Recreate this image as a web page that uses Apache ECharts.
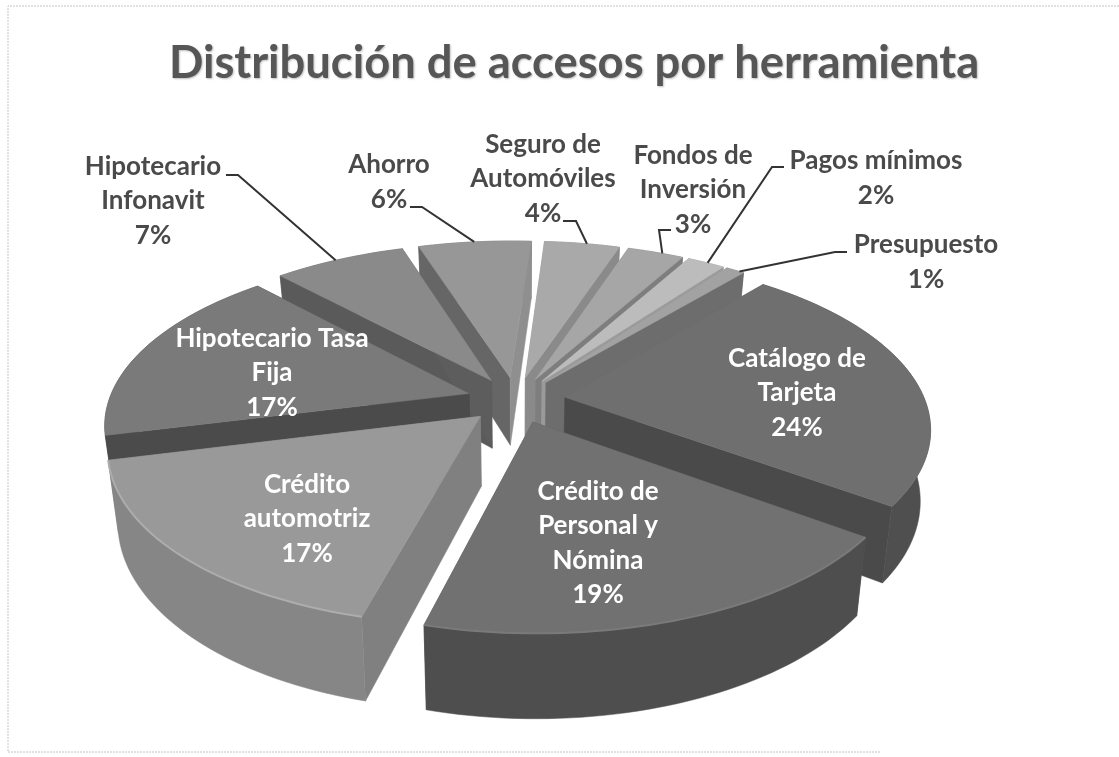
<!DOCTYPE html>
<html>
<head>
<meta charset="utf-8">
<title>Distribución de accesos por herramienta</title>
<script src="https://cdn.jsdelivr.net/npm/echarts@6/dist/echarts.min.js"></script>
<style>
html,body{margin:0;padding:0;background:#fff;}
#main{width:1119px;height:757px;}
</style>
</head>
<body>
<div id="main"></div>
<script>
var titleText = 'Distribución de accesos por herramienta';

// clockwise, starting from the 1st slice after the small ones
var categories = ['Catálogo de\nTarjeta', 'Crédito de\nPersonal y\nNómina', 'Crédito\nautomotriz',
    'Hipotecario Tasa\nFija', 'Hipotecario\nInfonavit', 'Ahorro', 'Seguro de\nAutomóviles',
    'Fondos de\nInversión', 'Pagos mínimos', 'Presupuesto'];
var values = [24, 19, 17, 17, 7, 6, 4, 3, 2, 1];

// face, rim and the two radial wall greys
var faceColors = ['#6f6f6f', '#717171', '#999999', '#7a7a7a', '#8a8a8a', '#979797', '#a9a9a9', '#a6a6a6', '#bcbcbc', '#a2a2a2'];
var sideColors = ['#4f4f4f', '#4e4e4e', '#868686', '#4b4b4b', '#666666', '#6e6e6e', '#8c8c8c', '#858585', '#9c9c9c', '#707070'];
var fromWallColors = ['#6a6a6a', '#5a5a5a', '#808080', '#4b4b4b', '#5a5a5a', '#666666', '#9a9a9a', '#9a9a9a', '#a0a0a0', '#9a9a9a'];
var toWallColors = ['#4a4a4a', '#5a5a5a', '#808080', '#4b4b4b', '#5d5d5d', '#8f8f8f', '#8a8a8a', '#7e7e7e', '#9a9a9a', '#6d6d6d'];
var rimLineColors = [null, '#7a7a7a', '#adadad', null, null, null, null, null, null, null];

// label centre, leader elbow start / elbow (none for inner labels)
var labelCenters = [[797, 393], [598, 543], [307, 519], [272, 373], [153, 201], [389, 182], [543, 179], [693, 190], [876, 178], [926, 262]];
var leaderStarts = [null, null, null, null, [226, 175], [410, 207], [563, 221], [671, 230], [784, 167], [847, 252]];
var leaderElbows = [null, null, null, null, [238, 175], [422, 207], [576, 221], [659, 230], [772, 167], [835, 252]];
var leaderAngles = [null, null, null, null, -31, -7, 12, 25, 33, 39];

var startAngle = 39.9;
var center = [516, 400];
var radiusX = 360;
var radiusY = 167;
var thickness = 69;
var perspective = 0.17;
var explode = 0.137;

var total = 0;
for (var t = 0; t < values.length; t++) {
    total += values[t];
}

// a point of the disc (1 = rim, front = v positive) on the screen, z 1 = bottom of the pie
function project(u, v, z) {
    var s = 1 / (1 - perspective * v);
    var shrink = 1 - 0.025 * z;
    return [
        center[0] + radiusX * u * s * shrink,
        center[1] + radiusY * v * s + thickness * z * s
    ];
}

function rad(deg) {
    return deg * Math.PI / 180;
}

var slices = [];
var angle = startAngle;
for (var i = 0; i < values.length; i++) {
    var sweep = values[i] / total * 360;
    var mid = angle + sweep / 2;
    slices.push({
        index: i,
        from: angle,
        to: angle + sweep,
        dx: Math.sin(rad(mid)) * explode,
        dv: -Math.cos(rad(mid)) * explode,
        depth: -Math.cos(rad(mid))
    });
    angle += sweep;
}

// paint from the back of the pie to the front
var drawOrder = slices.slice().sort(function (a, b) {
    return a.depth - b.depth;
});

function rimPoint(slice, deg, z) {
    return project(slice.dx + Math.sin(rad(deg)), slice.dv - Math.cos(rad(deg)), z);
}

function rimPoints(slice, z) {
    var pts = [];
    var steps = Math.max(6, Math.ceil((slice.to - slice.from) / 1.5));
    for (var k = 0; k <= steps; k++) {
        pts.push(rimPoint(slice, slice.from + (slice.to - slice.from) * k / steps, z));
    }
    return pts;
}

function poly(points, fill) {
    return {type: 'polygon', shape: {points: points}, style: {fill: fill, stroke: fill, lineWidth: 0.5}};
}

function renderSlice(params, api) {
    var slice = drawOrder[api.value(0)];
    var idx = slice.index;
    var apexTop = project(slice.dx, slice.dv, 0);
    var apexBottom = project(slice.dx, slice.dv, 1);
    var rimTop = rimPoints(slice, 0);
    var rimBottom = rimPoints(slice, 1);
    var last = rimTop.length - 1;
    var side = poly(rimTop.concat(rimBottom.slice().reverse()), sideColors[idx]);
    var children = [
        poly([apexTop, rimTop[0], rimBottom[0], apexBottom], fromWallColors[idx]),
        poly([apexTop, rimTop[last], rimBottom[last], apexBottom], toWallColors[idx])
    ];
    // at the back the rim is behind the radial walls, at the front in front of them
    if (slice.depth < 0) {
        children.unshift(side);
    } else {
        children.push(side);
    }
    children.push(poly([apexTop].concat(rimTop), faceColors[idx]));
    if (rimLineColors[idx]) {
        children.push({
            type: 'polyline',
            shape: {points: rimTop},
            style: {fill: null, stroke: rimLineColors[idx], lineWidth: 2}
        });
    }
    return {type: 'group', children: children};
}

var labelFont = 'bold 26px Lato, "Open Sans", sans-serif';

function renderLabel(params, api) {
    var slice = slices[api.value(0)];
    var idx = slice.index;
    var inner = !leaderStarts[idx];
    var children = [];
    if (!inner) {
        children.push({
            type: 'polyline',
            shape: {points: [leaderStarts[idx], leaderElbows[idx], rimPoint(slice, leaderAngles[idx], 0)]},
            style: {fill: null, stroke: '#333333', lineWidth: 2}
        });
    }
    children.push({
        type: 'text',
        style: {
            text: categories[idx] + '\n' + values[idx] + '%',
            x: labelCenters[idx][0],
            y: labelCenters[idx][1],
            textAlign: 'center',
            textVerticalAlign: 'middle',
            font: labelFont,
            lineHeight: 34.5,
            fill: inner ? '#ffffff' : '#4a4a4a'
        }
    });
    return {type: 'group', children: children};
}

var chart = echarts.init(document.getElementById('main'));
chart.setOption({
    animation: false,
    backgroundColor: '#ffffff',
    title: {
        text: titleText,
        left: 569,
        top: 36,
        textAlign: 'center',
        textStyle: {
            fontFamily: 'Lato',
            fontWeight: 'bold',
            fontSize: 45.3,
            color: '#565656',
            textShadowColor: 'rgba(0,0,0,0.25)',
            textShadowBlur: 2,
            textShadowOffsetX: 1,
            textShadowOffsetY: 1
        }
    },
    graphic: [{
        type: 'polyline',
        silent: true,
        shape: {points: [[1119, 6], [8, 6], [8, 752], [880, 752]]},
        style: {fill: null, stroke: '#c4c4c4', lineWidth: 1, lineDash: [2, 1]}
    }],
    series: [{
        type: 'custom',
        coordinateSystem: 'none',
        silent: true,
        renderItem: renderSlice,
        data: drawOrder.map(function (s, n) { return [n]; })
    }, {
        type: 'custom',
        coordinateSystem: 'none',
        silent: true,
        z: 5,
        renderItem: renderLabel,
        data: slices.map(function (s, n) { return [n]; })
    }]
});
</script>
</body>
</html>
